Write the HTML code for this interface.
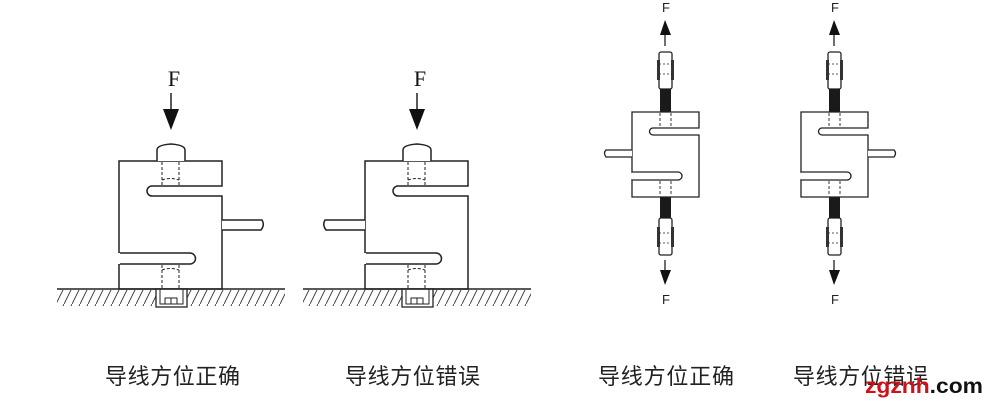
<!DOCTYPE html>
<html><head><meta charset="utf-8"><style>
html,body{margin:0;padding:0;background:#fff;width:996px;height:407px;overflow:hidden}
svg{display:block}
.cn{font-family:"Liberation Sans","Noto Sans CJK SC",sans-serif;font-size:22px;fill:#222}
</style></head><body>
<svg width="996" height="407" viewBox="0 0 996 407" xmlns="http://www.w3.org/2000/svg">
<defs>
<pattern id="h" width="8" height="16" patternUnits="userSpaceOnUse">
<line x1="0" y1="16" x2="8" y2="0" stroke="#333" stroke-width="0.9"/>
</pattern>
<g id="comp" fill="none" stroke="#222" stroke-width="1.5">
<!-- body outline -->
<path d="M119,289 V161 H222 V186 H152 A5,5 0 0 0 152,196 H222 V289 Z" fill="#fff"/>
<path d="M119,253 H190 A5.5,5.5 0 0 1 190,264 H119" fill="#fff"/>
<line x1="119" y1="253" x2="119" y2="264" stroke="#fff" stroke-width="2"/>
<!-- cap -->
<path d="M157,161 V150 Q157,145 171,144 Q185,145 185,150 V161" fill="#fff"/>
<!-- dashed bolts -->
<g stroke-dasharray="3,2" stroke-width="1">
<line x1="162" y1="162" x2="162" y2="185"/><line x1="179" y1="162" x2="179" y2="185"/>
<path d="M162,180 Q170,177 179,180"/>
<line x1="162" y1="265" x2="162" y2="289"/><line x1="179" y1="265" x2="179" y2="289"/>
<path d="M162,270 Q170,267 179,270"/>
</g>
<!-- arrow -->
<line x1="171" y1="93" x2="171" y2="110" stroke-width="1.5"/>
<polygon points="163,109 179,109 171,130" fill="#111" stroke="none"/>
<!-- ground -->
<rect x="57" y="290" width="228" height="16" fill="url(#h)" stroke="none"/>
<rect x="156" y="289" width="31" height="18" fill="#fff" stroke="#222" stroke-width="1.3"/>
<rect x="160" y="289" width="23" height="15" fill="none" stroke="#222" stroke-width="1"/>
<rect x="165" y="298" width="12" height="6" stroke-width="1"/>
<line x1="171" y1="298" x2="171" y2="304" stroke-width="1"/>
<line x1="57" y1="289" x2="285" y2="289" stroke-width="1.5"/>
</g>
<g id="rod" stroke="#222" stroke-width="1.3" fill="#fff">
<rect x="659" y="52" width="13" height="37" rx="2"/>
<rect x="657" y="60" width="3" height="20" fill="#333" stroke="none"/>
<rect x="671" y="60" width="3" height="20" fill="#333" stroke="none"/>
<line x1="659" y1="64" x2="672" y2="64" stroke-dasharray="2,2" stroke-width="0.8"/>
<line x1="659" y1="74" x2="672" y2="74" stroke-dasharray="2,2" stroke-width="0.8"/>
<rect x="660" y="89" width="11" height="23" fill="#1a1a1a" stroke="none"/>
</g>
</defs>

<!-- Figure 1 -->
<use href="#comp"/>
<path d="M222,220 H262 Q265,225 261,230 H222" fill="#fff" stroke="#222" stroke-width="1.5"/>
<text x="174" y="86" font-family="Liberation Serif,serif" font-size="22" text-anchor="middle" fill="#111">F</text>

<!-- Figure 2 -->
<use href="#comp" transform="translate(246,0)"/>
<path d="M365,220 H325 Q322,225 326,230 H365" fill="#fff" stroke="#222" stroke-width="1.5"/>
<text x="420" y="86" font-family="Liberation Serif,serif" font-size="22" text-anchor="middle" fill="#111">F</text>

<!-- Figure 3 -->
<g fill="none" stroke="#222" stroke-width="1.3">
<use href="#rod"/>
<use href="#rod" transform="translate(0,307) scale(1,-1)"/>
<path d="M632,112 H699 V128 H653 A3.5,3.5 0 0 0 653,135 H699 V197 H632 Z" fill="#fff"/>
<path d="M632,172 H678 A4,4 0 0 1 678,180 H632" fill="#fff"/>
<line x1="632" y1="173" x2="632" y2="179" stroke="#fff" stroke-width="2"/>
<path d="M632,150 H606 Q603,153 606,157 H632" fill="#fff"/>
<g stroke-dasharray="3,2" stroke-width="0.9"><line x1="660" y1="113" x2="660" y2="127"/><line x1="671" y1="113" x2="671" y2="127"/><line x1="660" y1="181" x2="660" y2="196"/><line x1="671" y1="181" x2="671" y2="196"/></g>
<line x1="665" y1="33" x2="665" y2="46"/><polygon points="660,35 671,35 665,20" fill="#111" stroke="none"/>
<line x1="665" y1="260" x2="665" y2="272"/><polygon points="660,270 671,270 665,285" fill="#111" stroke="none"/>
</g>
<text x="666" y="12" font-family="Liberation Sans,sans-serif" font-size="13" text-anchor="middle" fill="#222">F</text>
<text x="666" y="304" font-family="Liberation Sans,sans-serif" font-size="13" text-anchor="middle" fill="#222">F</text>

<!-- Figure 4 -->
<g fill="none" stroke="#222" stroke-width="1.3" transform="translate(169,0)">
<use href="#rod"/>
<use href="#rod" transform="translate(0,307) scale(1,-1)"/>
<path d="M632,112 H699 V128 H653 A3.5,3.5 0 0 0 653,135 H699 V197 H632 Z" fill="#fff"/>
<path d="M632,172 H678 A4,4 0 0 1 678,180 H632" fill="#fff"/>
<line x1="632" y1="173" x2="632" y2="179" stroke="#fff" stroke-width="2"/>
<path d="M699,150 H725 Q728,153 725,157 H699" fill="#fff"/>
<g stroke-dasharray="3,2" stroke-width="0.9"><line x1="660" y1="113" x2="660" y2="127"/><line x1="671" y1="113" x2="671" y2="127"/><line x1="660" y1="181" x2="660" y2="196"/><line x1="671" y1="181" x2="671" y2="196"/></g>
<line x1="665" y1="33" x2="665" y2="46"/><polygon points="660,35 671,35 665,20" fill="#111" stroke="none"/>
<line x1="665" y1="260" x2="665" y2="272"/><polygon points="660,270 671,270 665,285" fill="#111" stroke="none"/>
</g>
<text x="835" y="12" font-family="Liberation Sans,sans-serif" font-size="13" text-anchor="middle" fill="#222">F</text>
<text x="835" y="304" font-family="Liberation Sans,sans-serif" font-size="13" text-anchor="middle" fill="#222">F</text>

<!-- labels -->
<text class="cn" x="105" y="384" textLength="135">导线方位正确</text>
<text class="cn" x="345" y="384" textLength="135">导线方位错误</text>
<text class="cn" x="598" y="384" textLength="136">导线方位正确</text>
<text class="cn" x="793" y="384" textLength="135">导线方位错误</text>
<text x="865" y="393" font-family="Liberation Sans,sans-serif" font-weight="bold" font-size="21" textLength="118" lengthAdjust="spacingAndGlyphs"><tspan fill="#d0101a">zgznh</tspan><tspan fill="#111">.com</tspan></text>
</svg>
</body></html>
